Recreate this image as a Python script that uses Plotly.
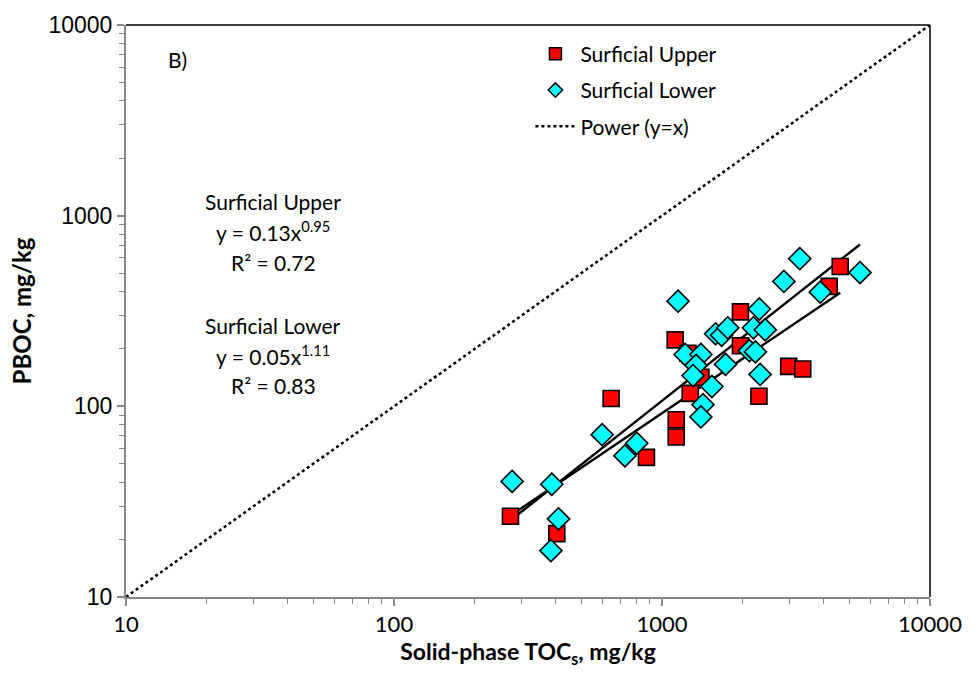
import plotly.graph_objects as go
import numpy as np

# Surficial Upper (red squares): solid-phase TOC (mg/kg), PBOC (mg/kg)
upper_x = [272, 405, 646, 875, 1120, 1130, 1130, 1250, 1274, 1397, 1962, 1962, 2300, 2970, 3350, 4206, 4624]
upper_y = [26.5, 21.5, 110, 54, 223, 85, 69, 190, 117, 142, 313, 208, 113, 162, 157, 426, 541]

# Surficial Lower (cyan diamonds)
lower_x = [276, 388, 411, 385, 598, 727, 805, 1148, 1220, 1397, 1340, 1306, 1422, 1397, 1535,
           1585, 1670, 1760, 1726, 2118, 2230, 2193, 2307, 2428, 2323, 2850, 3267, 3896, 5480]
lower_y = [40.4, 39, 25.7, 17.5, 71, 55, 64, 356, 187, 187, 164, 145, 102, 88, 127,
           240, 236, 258, 166, 196, 193, 258, 324, 252, 147, 452, 595, 397, 503]

# Power-law fits y = a * x^b
upper_fit = (0.13, 0.95)
lower_fit = (0.05, 1.11)

# 1:1 line
one_to_one = [10, 10000]

x_ticks = [10, 100, 1000, 10000]
y_ticks = [10, 100, 1000, 10000]

FONT = "Lato"

fig = go.Figure()

def fit_curve(xs, ab):
    a, b = ab
    xx = np.geomspace(min(xs), max(xs), 50)
    return xx, a * xx ** b

ux, uy = fit_curve(upper_x, upper_fit)
lx, ly = fit_curve(lower_x, lower_fit)

fig.add_trace(go.Scatter(x=ux, y=uy, mode="lines", line=dict(color="black", width=2.4),
                         showlegend=False, hoverinfo="skip"))
fig.add_trace(go.Scatter(x=lx, y=ly, mode="lines", line=dict(color="black", width=2.4),
                         showlegend=False, hoverinfo="skip"))

fig.add_trace(go.Scatter(x=upper_x, y=upper_y, mode="markers", name="Surficial Upper",
                         showlegend=False,
                         marker=dict(symbol="square", size=16, color="#FF0000",
                                     line=dict(color="black", width=1.6))))
fig.add_trace(go.Scatter(x=lower_x, y=lower_y, mode="markers", name="Surficial Lower",
                         showlegend=False,
                         marker=dict(symbol="diamond", size=17, color="#00FFFF",
                                     line=dict(color="black", width=1.6))))
fig.add_trace(go.Scatter(x=one_to_one, y=one_to_one, mode="lines", name="Power (y=x)",
                         showlegend=False,
                         line=dict(color="black", width=2.5, dash="dot")))

# legend-only entries (smaller symbols, as in the reference legend)
fig.add_trace(go.Scatter(x=[None], y=[None], mode="markers", name="Surficial Upper",
                         legendgroup="a",
                         marker=dict(symbol="square", size=12, color="#FF0000",
                                     line=dict(color="black", width=1.5))))
fig.add_trace(go.Scatter(x=[None], y=[None], mode="markers", name="Surficial Lower",
                         legendgroup="b",
                         marker=dict(symbol="diamond", size=11, color="#00FFFF",
                                     line=dict(color="black", width=1.5))))
fig.add_trace(go.Scatter(x=[None], y=[None], mode="lines", name="Power (y=x)",
                         legendgroup="c",
                         line=dict(color="black", width=2.5, dash="dot")))

axis_common = dict(type="log", showgrid=False, zeroline=False, showline=True,
                   linecolor="#888888", linewidth=2, ticks="outside", tickcolor="#888888",
                   ticklen=7, tickwidth=1.5,
                   minor=dict(ticks="outside", ticklen=5, tickcolor="#888888", tickwidth=1,
                              dtick="D1", showgrid=False))

fig.update_xaxes(**axis_common, range=[1, 4], tickvals=x_ticks,
                 ticktext=[str(v) for v in x_ticks],
                 tickfont=dict(family=FONT, size=22, color="black"),
                 title=dict(text="<b>Solid-phase TOC<sub>s</sub>, mg/kg</b>",
                            font=dict(family=FONT, size=23, color="black"), standoff=6))
fig.update_yaxes(**axis_common, range=[1, 4], tickvals=y_ticks,
                 ticktext=[str(v) for v in y_ticks],
                 tickfont=dict(family="Liberation Sans", size=23, color="black"),
                 title=dict(text="<b>PBOC, mg/kg</b>",
                            font=dict(family=FONT, size=24, color="black"), standoff=10))

# top and right black border
fig.add_shape(type="line", xref="paper", yref="paper", x0=0, x1=1, y0=1, y1=1,
              line=dict(color="black", width=1.5))
fig.add_shape(type="line", xref="paper", yref="paper", x0=1, x1=1, y0=0, y1=1,
              line=dict(color="black", width=1.5))

ann_font = dict(family=FONT, size=21, color="black")
fig.add_annotation(xref="paper", yref="paper", x=0.050, y=0.94, text="B)", showarrow=False,
                   font=ann_font, xanchor="left", yanchor="middle")
eq_lines = [
    ("Surficial Upper", 0.691),
    ("y = 0.13x<sup>0.95</sup>", 0.639),
    ("R² = 0.72", 0.585),
    ("Surficial Lower", 0.475),
    ("y = 0.05x<sup>1.11</sup>", 0.423),
    ("R² = 0.83", 0.369),
]
for t, yy in eq_lines:
    fig.add_annotation(xref="paper", yref="paper", x=0.183, y=yy, text=t, showarrow=False,
                       font=ann_font, xanchor="center", yanchor="middle")

fig.update_layout(
    width=974, height=673,
    margin=dict(l=126, r=34, t=19, b=76),
    paper_bgcolor="white", plot_bgcolor="white",
    legend=dict(x=0.503, y=0.985, xanchor="left", yanchor="top",
                font=dict(family=FONT, size=21, color="black"),
                bgcolor="rgba(255,255,255,0)", traceorder="grouped", tracegroupgap=6,
                itemwidth=40),
)

fig.write_html("out.html")
